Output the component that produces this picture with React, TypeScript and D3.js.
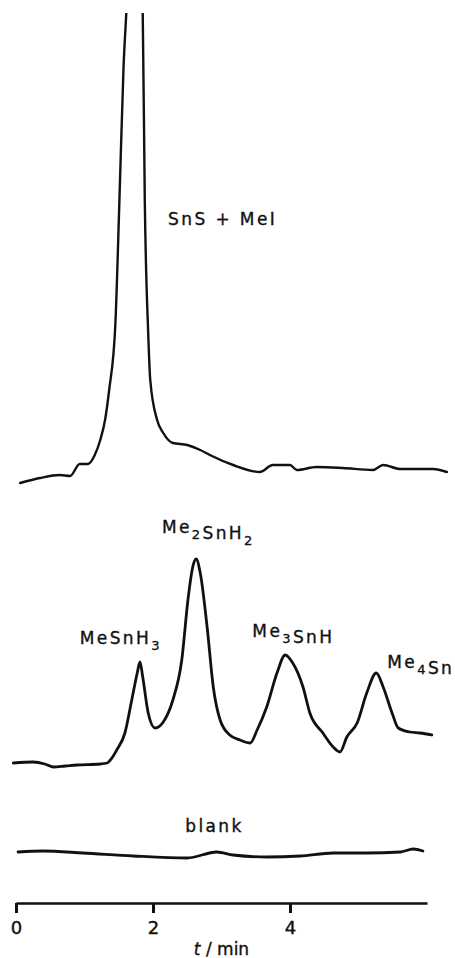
import { useEffect, useRef } from 'react';
import * as d3 from 'd3';

const WIDTH = 455;
const HEIGHT = 958;

// retention time (min) / detector response (arb. units above each trace's own baseline)
const reactionTimes = [0.06, 0.35, 0.64, 0.79, 0.93, 1.05, 1.15, 1.23, 1.3, 1.36, 1.45, 1.51, 1.57, 1.61, 1.73, 1.85, 1.88, 1.93, 1.96, 2.06, 2.15, 2.29, 2.5, 2.69, 2.83, 3.17, 3.56, 3.75, 4.0, 4.1, 4.39, 4.77, 5.21, 5.36, 5.61, 6.09, 6.29];
const reactionSignal = [-1.3, -0.8, -0.5, -0.6, 0.6, 0.6, 1.5, 3.0, 5.0, 8.0, 14.5, 27.0, 40.3, 45.7, 64.4, 45.7, 27.0, 13.7, 9.0, 5.0, 3.7, 2.7, 2.5, 2.0, 1.5, 0.5, -0.2, 0.5, 0.5, 0, 0.3, 0.2, 0, 0.5, 0.1, 0.1, -0.2];

const hydrideTimes = [-0.04, 0.25, 0.42, 0.54, 0.72, 0.89, 1.23, 1.33, 1.4, 1.47, 1.59, 1.69, 1.77, 1.81, 1.85, 1.93, 2.03, 2.15, 2.29, 2.42, 2.51, 2.58, 2.63, 2.69, 2.79, 2.88, 2.98, 3.12, 3.27, 3.42, 3.52, 3.66, 3.81, 3.93, 4.04, 4.19, 4.29, 4.48, 4.63, 4.73, 4.83, 4.98, 5.12, 5.26, 5.36, 5.49, 5.58, 5.75, 5.9, 6.07];
const hydrideSignal = [0.2, 0.3, 0.1, -0.2, -0.1, 0, 0.1, 0.2, 0.7, 1.5, 3.2, 6.5, 9.2, 10.3, 8.8, 5.2, 3.7, 4.3, 6.5, 10.5, 16.5, 19.8, 20.6, 19.2, 13.8, 7.8, 4.5, 3.0, 2.5, 2.2, 3.5, 5.8, 9.2, 11.0, 10.2, 7.8, 5.2, 3.2, 1.8, 1.3, 2.8, 4.2, 7.2, 9.2, 7.8, 5.2, 3.7, 3.3, 3.2, 3.0];

const blankTimes = [0.03, 0.39, 0.98, 1.71, 2.5, 2.93, 3.17, 3.66, 4.15, 4.63, 5.12, 5.61, 5.8, 5.94];
const blankSignal = [0.1, 0.2, 0, -0.3, -0.5, 0.1, -0.2, -0.4, -0.3, 0, 0, 0.1, 0.4, 0.2];

// baseline of each trace on the shared vertical scale
const traceOffsets = [43.3, 13.8, 5.0];

const xTicks = [0, 2, 4];

// annotation text, anchored at (time, signal above the trace baseline)
const labelTrace = [0, 1, 1, 1, 1, 2];
const labelTimes = [2.22, 0.93, 2.13, 3.45, 5.42, 2.47];
const labelSignal = [24.5, 12.1, 23.2, 12.8, 9.7, 2.1];
const labelParts: [string, string][][] = [
  [['SnS + MeI', '']],
  [['MeSnH', '3']],
  [['Me', '2'], ['SnH', '2']],
  [['Me', '3'], ['SnH', '']],
  [['Me', '4'], ['Sn', '']],
  [['blank', '']],
];

const FONT = '"DejaVu Sans", sans-serif';

const App = () => {
  const ref = useRef<SVGSVGElement | null>(null);

  useEffect(() => {
    if (!ref.current) return;
    const svg = d3.select(ref.current);
    svg.selectAll('*').remove();

    const x = d3.scaleLinear().domain([0, 6]).range([16, 427]);
    const y = d3.scaleLinear().domain([0, 89]).range([903, 13]);

    svg.append('defs')
      .append('clipPath')
      .attr('id', 'plot-clip')
      .append('rect')
      .attr('x', 0)
      .attr('y', y(89))
      .attr('width', WIDTH)
      .attr('height', HEIGHT - y(89));

    const traces = [
      reactionTimes.map((t, i) => [t, reactionSignal[i]] as [number, number]),
      hydrideTimes.map((t, i) => [t, hydrideSignal[i]] as [number, number]),
      blankTimes.map((t, i) => [t, blankSignal[i]] as [number, number]),
    ];

    const g = svg.append('g').attr('clip-path', 'url(#plot-clip)');
    traces.forEach((pts, k) => {
      const line = d3.line<[number, number]>()
        .x(d => x(d[0]))
        .y(d => y(d[1] + traceOffsets[k]))
        .curve(d3.curveMonotoneX);
      g.append('path')
        .attr('d', line(pts))
        .attr('fill', 'none')
        .attr('stroke', '#111')
        .attr('stroke-width', k === 0 ? 2.4 : 2.8)
        .attr('stroke-linejoin', 'round')
        .attr('stroke-linecap', 'round');
    });

    // time axis
    const axis = svg.append('g')
      .attr('transform', `translate(0, ${y(0)})`)
      .call(d3.axisBottom(x).tickValues(xTicks).tickSize(10).tickSizeOuter(0).tickPadding(8).tickFormat(d3.format('d')));
    axis.select('.domain').attr('stroke', '#111').attr('stroke-width', 2.6);
    axis.selectAll('.tick line').attr('stroke', '#111').attr('stroke-width', 3);
    axis.selectAll('.tick text')
      .attr('fill', '#111')
      .attr('stroke', '#111')
      .attr('stroke-width', 0.4)
      .style('font-family', FONT)
      .style('font-size', '18px');

    const title = svg.append('text')
      .attr('x', x(3))
      .attr('y', 955)
      .attr('text-anchor', 'middle')
      .attr('stroke', '#111')
      .attr('stroke-width', 0.35)
      .style('font-family', FONT)
      .style('font-size', '17px')
      .attr('fill', '#111');
    title.append('tspan').attr('font-style', 'italic').text('t');
    title.append('tspan').text(' / min');

    labelParts.forEach((parts, i) => {
      const txt = svg.append('text')
        .attr('x', x(labelTimes[i]))
        .attr('y', y(labelSignal[i] + traceOffsets[labelTrace[i]]))
        .attr('fill', '#111')
        .attr('stroke', '#111')
        .attr('stroke-width', 0.35)
        .style('font-family', FONT)
        .style('font-size', '17px')
        .style('letter-spacing', '2.4px');
      parts.forEach(([main, sub]) => {
        txt.append('tspan').attr('dy', 0).text(main);
        if (sub) {
          txt.append('tspan')
            .attr('dy', 6)
            .style('font-size', '13px')
            .text(sub);
          txt.append('tspan').attr('dy', -6).text('');
        }
      });
    });
  }, []);

  return (
    <svg
      ref={ref}
      width={WIDTH}
      height={HEIGHT}
      style={{ position: 'absolute', left: 0, top: 0, background: '#fff' }}
    />
  );
};

export default App;
